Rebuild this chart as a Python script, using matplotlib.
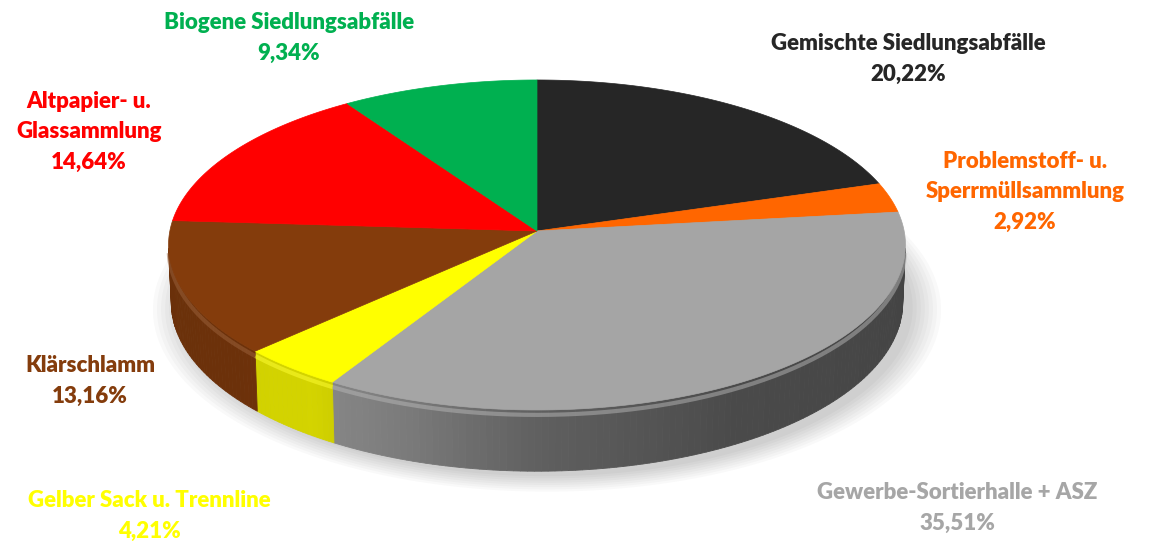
import numpy as np
import matplotlib.pyplot as plt
from matplotlib.patches import Polygon
from matplotlib.colors import to_rgb

plt.rcParams['font.family'] = ['Lato', 'DejaVu Sans']

# data
categories = ["Gemischte Siedlungsabfälle",
              "Problemstoff- u.\nSperrmüllsammlung",
              "Gewerbe-Sortierhalle + ASZ",
              "Gelber Sack u. Trennline",
              "Klärschlamm",
              "Altpapier- u.\nGlassammlung",
              "Biogene Siedlungsabfälle"]
shares = [20.22, 2.92, 35.51, 4.21, 13.16, 14.64, 9.34]
slice_colors = ["#262626", "#ff6600", "#a5a5a5", "#ffff00", "#843c0c", "#ff0000", "#00b050"]
text_colors = ["#262626", "#ff6600", "#a6a6a6", "#ffff00", "#843c0c", "#ff0000", "#00b050"]

# label centres (pixels)
label_pos = [(908, 59), (1025, 192), (957, 508), (149, 516), (90, 381), (89, 132), (289, 38)]

# simple perspective camera for the 3d look
CX, CY = 537, 231
ELEV = np.radians(26.5)
DIST = 10.56
FOC = 3877
DEPTH = 0.176


def project(phi, r, z):
    X = r * np.sin(phi)
    Y = r * np.cos(phi)
    d = DIST + Y * np.cos(ELEV) - z * np.sin(ELEV)
    sx = FOC * X / d
    sy = FOC * (Y * np.sin(ELEV) + z * np.cos(ELEV)) / d
    return CX + sx, CY - sy


def shade(color, f):
    c = np.array(to_rgb(color))
    if f <= 1:
        return tuple(c * f)
    return tuple(c + (1 - c) * (f - 1))


fig = plt.figure(figsize=(11.57, 5.44), dpi=100)
ax = fig.add_axes([0, 0, 1, 1])
ax.set_xlim(0, 1157)
ax.set_ylim(544, 0)
ax.axis('off')

bounds = np.radians(np.concatenate([[0], np.cumsum(shares)]) * 3.6)

# soft shadow under the disc
phis = np.linspace(0, 2 * np.pi, 200)
for k in range(8):
    r = 1.0 + 0.011 * k
    sx, sy = project(phis, r, -DEPTH)
    ax.add_patch(Polygon(np.column_stack([sx + 10, sy + 5]), closed=True,
                         facecolor='black', edgecolor='none', alpha=0.022, zorder=1))

# visible part of the outer wall
lim = np.arccos(-1 / (DIST * np.cos(ELEV)))
vis_lo, vis_hi = lim, 2 * np.pi - lim
shade_phi = np.radians([90, 150, 180, 200, 215, 270])
shade_f = [0.40, 0.45, 0.58, 0.75, 0.83, 0.80]

for i in range(len(shares)):
    a0 = max(bounds[i], vis_lo)
    a1 = min(bounds[i + 1], vis_hi)
    if a1 <= a0:
        continue
    steps = np.linspace(a0, a1, max(2, int(np.degrees(a1 - a0)) + 2))
    for p0, p1 in zip(steps[:-1], steps[1:]):
        xt0, yt0 = project(p0, 1, 0)
        xt1, yt1 = project(p1, 1, 0)
        xb0, yb0 = project(p0, 1, -DEPTH)
        xb1, yb1 = project(p1, 1, -DEPTH)
        f = np.interp((p0 + p1) / 2, shade_phi, shade_f)
        col = shade(slice_colors[i], f)
        ax.add_patch(Polygon([(xt0, yt0), (xt1, yt1), (xb1, yb1), (xb0, yb0)], closed=True,
                             facecolor=col, edgecolor=col, lw=0.6, zorder=2))
    # rim highlight
    arc = np.linspace(a0, a1, 60)
    hx, hy = project(arc, 1, -0.014)
    ax.plot(hx, hy, color=shade(slice_colors[i], 1.2), lw=3, alpha=0.5, zorder=3,
            solid_capstyle='butt')

# top face
for i in range(len(shares)):
    arc = np.linspace(bounds[i], bounds[i + 1], 120)
    tx, ty = project(arc, 1, 0)
    pts = [(CX, CY)] + list(zip(tx, ty))
    ax.add_patch(Polygon(pts, closed=True, facecolor=slice_colors[i],
                         edgecolor=slice_colors[i], lw=0.5, zorder=4))

# labels
for i in range(len(shares)):
    pct = f"{shares[i]:.2f}".replace(".", ",") + "%"
    x, y = label_pos[i]
    ax.text(x, y, categories[i] + "\n" + pct, ha='center', va='center',
            multialignment='center', fontsize=16, fontweight='heavy',
            color=text_colors[i], linespacing=1.55, zorder=5)

fig.savefig("out.png", dpi=100)
